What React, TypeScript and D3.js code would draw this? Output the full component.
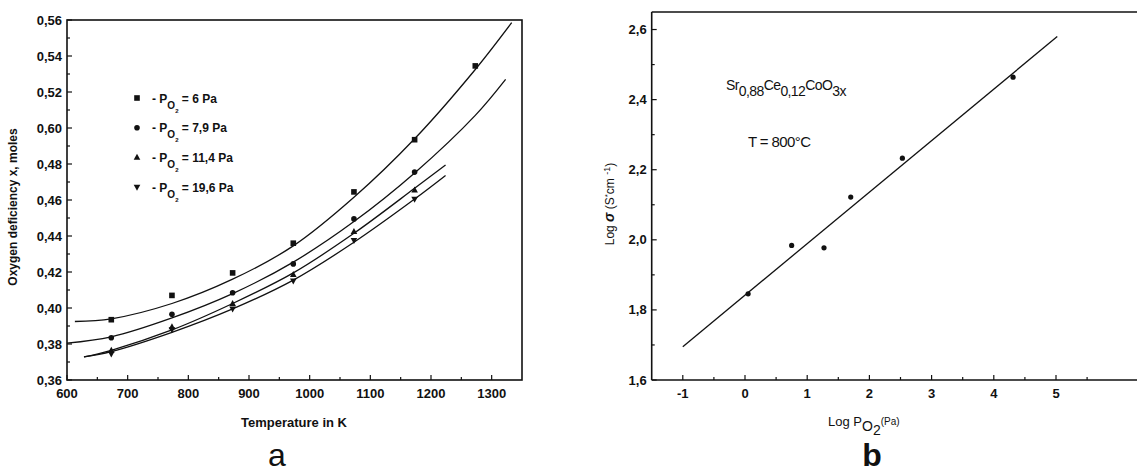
import React from "react";
import * as d3 from "d3";

// ---------- Panel a data ----------
const tempTicks = [600, 700, 800, 900, 1000, 1100, 1200, 1300];
const tempMinor = [650, 750, 850, 950, 1050, 1150, 1250];
const defTicks = [0.36, 0.38, 0.4, 0.42, 0.44, 0.46, 0.48, 0.5, 0.52, 0.54, 0.56];
const defTickLabels = ["0,36", "0,38", "0,40", "0,42", "0,44", "0,46", "0,48", "0,60", "0,52", "0,54", "0,56"];
const defMinor = [0.37, 0.39, 0.41, 0.43, 0.45, 0.47, 0.49, 0.51, 0.53, 0.55];

const seriesNames = ["6 Pa", "7,9 Pa", "11,4 Pa", "19,6 Pa"];
const seriesSymbols = ["square", "circle", "triangle", "triangleDown"];

const pts6: [number, number][] = [[673, 0.3935], [773, 0.407], [873, 0.4195], [973, 0.436], [1073, 0.4645], [1173, 0.4935], [1273, 0.5345]];
const pts79: [number, number][] = [[673, 0.3835], [773, 0.3965], [873, 0.4085], [973, 0.4245], [1073, 0.4495], [1173, 0.4755]];
const pts114: [number, number][] = [[673, 0.3765], [773, 0.3895], [873, 0.4025], [973, 0.4185], [1073, 0.4425], [1173, 0.4655]];
const pts196: [number, number][] = [[673, 0.3745], [773, 0.388], [873, 0.3995], [973, 0.415], [1073, 0.4375], [1173, 0.4605]];

const fit6: [number, number][] = [[613, 0.3925], [673, 0.394], [773, 0.4025], [873, 0.416], [973, 0.4345], [1073, 0.4615], [1173, 0.494], [1273, 0.5325], [1333, 0.5585]];
const fit79: [number, number][] = [[600, 0.3805], [673, 0.384], [773, 0.3945], [873, 0.408], [973, 0.4255], [1073, 0.448], [1173, 0.475], [1273, 0.507], [1323, 0.527]];
const fit114: [number, number][] = [[628, 0.3728], [673, 0.3765], [773, 0.3878], [873, 0.4025], [973, 0.4195], [1073, 0.4415], [1173, 0.4665], [1224, 0.4795]];
const fit196: [number, number][] = [[628, 0.3728], [673, 0.3758], [773, 0.3865], [873, 0.3995], [973, 0.4155], [1073, 0.4365], [1173, 0.4605], [1224, 0.4736]];

const pointsA = [pts6, pts79, pts114, pts196];
const fitsA = [fit6, fit79, fit114, fit196];

// ---------- Panel b data ----------
const logPTicks = [-1, 0, 1, 2, 3, 4, 5];
const logPMinor = [-0.5, 0.5, 1.5, 2.5, 3.5, 4.5, 5.5];
const sigmaTicks = [1.6, 1.8, 2.0, 2.2, 2.4, 2.6];
const sigmaTickLabels = ["1,6", "1,8", "2,0", "2,2", "2,4", "2,6"];
const sigmaMinor = [1.7, 1.9, 2.1, 2.3, 2.5];
const logPData = [0.05, 0.75, 1.27, 1.7, 2.53, 4.31];
const sigmaData = [1.846, 1.984, 1.977, 2.122, 2.233, 2.464];
const fitLineX = [-1, 5.02];
const fitLineY = [1.695, 2.58];

const FONT = "'Liberation Sans', Arial, Helvetica, sans-serif";

function Marker({ type, x, y }: { type: string; x: number; y: number }) {
  if (type === "square") return <rect x={x - 2.8} y={y - 2.8} width={5.6} height={5.6} fill="#111" />;
  if (type === "circle") return <circle cx={x} cy={y} r={2.8} fill="#111" />;
  if (type === "triangle") return <path d={`M${x},${y - 3.6}L${x + 3.3},${y + 2.4}L${x - 3.3},${y + 2.4}Z`} fill="#111" />;
  return <path d={`M${x},${y + 3.6}L${x + 3.3},${y - 2.4}L${x - 3.3},${y - 2.4}Z`} fill="#111" />;
}

export default function App() {
  const xA = d3.scaleLinear().domain([600, 1350]).range([67, 522]);
  const yA = d3.scaleLinear().domain([0.36, 0.56]).range([380, 20]);
  const xB = d3.scaleLinear().domain([-1.5, 6.5]).range([651.7, 1149.3]);
  const yB = d3.scaleLinear().domain([1.6, 2.65]).range([380, 12]);

  const lineA = d3
    .line<[number, number]>()
    .x((d) => xA(d[0]))
    .y((d) => yA(d[1]))
    .curve(d3.curveCatmullRom.alpha(0.5));

  const lineB = d3
    .line<number>()
    .x((d) => xB(d))
    .y((_, i) => yB(fitLineY[i]));

  const ink = "#111";

  return (
    <svg
      width={1137}
      height={475}
      style={{ position: "absolute", left: 0, top: 0, background: "#fff" }}
      fontFamily={FONT}
    >
      <rect x={0} y={0} width={1137} height={475} fill="#fff" />

      {/* ================= Panel a ================= */}
      <g>
        <rect x={xA(600)} y={yA(0.56)} width={xA(1350) - xA(600)} height={yA(0.36) - yA(0.56)} fill="none" stroke={ink} strokeWidth={1.6} />
        {tempTicks.map((t) => (
          <g key={"xt" + t}>
            <line x1={xA(t)} x2={xA(t)} y1={yA(0.36)} y2={yA(0.36) - 5} stroke={ink} strokeWidth={1.2} />
            <text x={xA(t)} y={yA(0.36) + 18} textAnchor="middle" fontSize={13} fontWeight="bold" fill={ink}>
              {t}
            </text>
          </g>
        ))}
        {tempMinor.map((t) => (
          <line key={"xm" + t} x1={xA(t)} x2={xA(t)} y1={yA(0.36)} y2={yA(0.36) - 3} stroke={ink} strokeWidth={1.2} />
        ))}
        {defTicks.map((v, i) => (
          <g key={"yt" + v}>
            <line x1={xA(600)} x2={xA(600) + 5} y1={yA(v)} y2={yA(v)} stroke={ink} strokeWidth={1.2} />
            <text x={xA(600) - 5} y={yA(v) + 4.5} textAnchor="end" fontSize={13} fontWeight="bold" fill={ink}>
              {defTickLabels[i]}
            </text>
          </g>
        ))}
        {defMinor.map((v) => (
          <line key={"ym" + v} x1={xA(600)} x2={xA(600) + 3} y1={yA(v)} y2={yA(v)} stroke={ink} strokeWidth={1.2} />
        ))}
        <text x={294} y={427} textAnchor="middle" fontSize={13} fontWeight="bold" fill={ink}>
          Temperature in K
        </text>
        <text transform="translate(17,207) rotate(-90)" textAnchor="middle" fontSize={12} fontWeight="bold" fill={ink}>
          Oxygen deficiency  x, moles
        </text>

        {fitsA.map((f, i) => (
          <path key={"fit" + i} d={lineA(f) || ""} fill="none" stroke={ink} strokeWidth={1.3} />
        ))}
        {pointsA.map((s, i) =>
          s.map((p, j) => <Marker key={"p" + i + "_" + j} type={seriesSymbols[i]} x={xA(p[0])} y={yA(p[1])} />)
        )}

        {seriesNames.map((n, i) => {
          const yy = 98 + i * 29.7;
          return (
            <g key={"leg" + i}>
              <Marker type={seriesSymbols[i]} x={137} y={yy} />
              <text x={152} y={yy + 4.5} fontSize={12} fontWeight="bold" fill={ink}>
                <tspan>- P</tspan>
                <tspan dy={6} fontSize={10}>O</tspan>
                <tspan dy={4} fontSize={6}>2</tspan>
                <tspan dy={-10}> = {n}</tspan>
              </text>
            </g>
          );
        })}

        <text x={277} y={466} textAnchor="middle" fontSize={32} fill={ink}>
          a
        </text>
      </g>

      {/* ================= Panel b ================= */}
      <g>
        <line x1={xB(-1.5)} x2={1137} y1={yB(2.65)} y2={yB(2.65)} stroke={ink} strokeWidth={1.6} />
        <line x1={xB(-1.5)} x2={1137} y1={yB(1.6)} y2={yB(1.6)} stroke={ink} strokeWidth={1.6} />
        <line x1={xB(-1.5)} x2={xB(-1.5)} y1={yB(2.65)} y2={yB(1.6)} stroke={ink} strokeWidth={1.6} />
        {logPTicks.map((t) => (
          <g key={"bx" + t}>
            <line x1={xB(t)} x2={xB(t)} y1={yB(1.6)} y2={yB(1.6) - 5} stroke={ink} strokeWidth={1.2} />
            <text x={xB(t)} y={yB(1.6) + 18} textAnchor="middle" fontSize={13} fontWeight="bold" fill={ink}>
              {t}
            </text>
          </g>
        ))}
        {logPMinor.map((t) => (
          <line key={"bxm" + t} x1={xB(t)} x2={xB(t)} y1={yB(1.6)} y2={yB(1.6) - 3} stroke={ink} strokeWidth={1.2} />
        ))}
        {sigmaTicks.map((v, i) => (
          <g key={"by" + v}>
            <line x1={xB(-1.5)} x2={xB(-1.5) + 5} y1={yB(v)} y2={yB(v)} stroke={ink} strokeWidth={1.2} />
            <text x={xB(-1.5) - 5} y={yB(v) + 4.5} textAnchor="end" fontSize={13} fontWeight="bold" fill={ink}>
              {sigmaTickLabels[i]}
            </text>
          </g>
        ))}
        {sigmaMinor.map((v) => (
          <line key={"bym" + v} x1={xB(-1.5)} x2={xB(-1.5) + 3} y1={yB(v)} y2={yB(v)} stroke={ink} strokeWidth={1.2} />
        ))}

        <path d={lineB(fitLineX) || ""} fill="none" stroke={ink} strokeWidth={1.3} />
        {logPData.map((x, i) => (
          <circle key={"bp" + i} cx={xB(x)} cy={yB(sigmaData[i])} r={2.6} fill={ink} />
        ))}

        <text x={828} y={426} fontSize={13} fill={ink}>
          <tspan>Log P</tspan>
          <tspan dy={5} fontSize={14}>O</tspan>
          <tspan dy={4} fontSize={14}>2</tspan>
          <tspan dy={-10} fontSize={10}>(Pa)</tspan>
        </text>

        <text transform="translate(614,204) rotate(-90)" textAnchor="middle" fontSize={12} fill={ink}>
          <tspan>Log </tspan>
          <tspan fontWeight="bold" fontStyle="italic" fontSize={14}>σ</tspan>
          <tspan> (S</tspan>
          <tspan dy={-4} fontSize={8}>*</tspan>
          <tspan dy={4}>cm </tspan>
          <tspan dy={-4} fontSize={9}>-1</tspan>
          <tspan dy={4}>)</tspan>
        </text>

        <text x={726} y={90} fontSize={14} fill={ink} letterSpacing={-0.6}>
          <tspan>Sr</tspan>
          <tspan dy={6}>0,88</tspan>
          <tspan dy={-6}>Ce</tspan>
          <tspan dy={6}>0,12</tspan>
          <tspan dy={-6}>CoO</tspan>
          <tspan dy={6}>3x</tspan>
        </text>
        <text x={748} y={147} fontSize={15} fill={ink} letterSpacing={-0.6}>
          T = 800°C
        </text>

        <text x={872} y={466} textAnchor="middle" fontSize={32} fontWeight="bold" fill={ink}>
          b
        </text>
      </g>
    </svg>
  );
}
